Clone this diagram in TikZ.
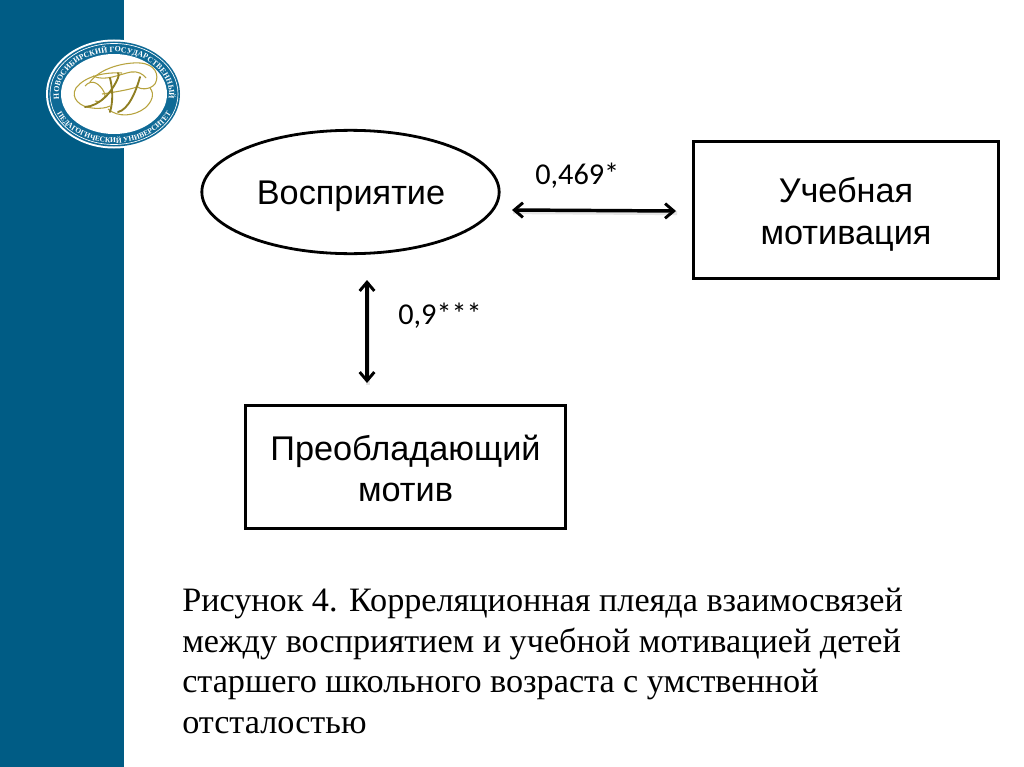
\documentclass[tikz,border=0pt]{standalone}
\usepackage{fontspec}
\setmainfont{Liberation Serif}
\newfontfamily\sansf{Liberation Sans}
\newfontfamily\calf{Carlito}
\usetikzlibrary{arrows.meta,decorations.text,shapes.geometric}
\definecolor{band}{HTML}{005C85}
\definecolor{logoblue}{HTML}{0F6A96}
\definecolor{gold}{HTML}{B7A33E}
\definecolor{golddark}{HTML}{8F7E22}
\newcommand{\fs}[1]{\fontsize{#1}{#1}\selectfont}
\tikzset{
  x=0.75pt,y=-0.75pt,
  shapeline/.style={draw=black,line width=2.1pt,fill=white,align=center,inner sep=0pt},
  boxnode/.style={shapeline,rectangle},
  labeltext/.style={font=\sansf\fs{25.7},inner sep=0pt,anchor=base},
  captext/.style={font=\fs{25.65},inner sep=0pt,anchor=base west},
  link/.style={draw=black,line width=2.6pt,{Straight Barb[length=6.5pt,width=11pt,line width=2.2pt]}-{Straight Barb[length=6.5pt,width=11pt,line width=2.2pt]},
    preaction={draw=black!10,line width=3pt,-,transform canvas={yshift=-1.6pt,xshift=0.8pt}}},
  coef/.style={font=\calf\fs{22.7},inner sep=0pt,anchor=base west},
  goldline/.style={draw=gold,line width=0.8pt},
  goldbold/.style={draw=golddark,line width=1.4pt,line cap=round},
}
\begin{document}
\begin{tikzpicture}
\useasboundingbox (0,0) rectangle (1024,767);
\fill[white] (0,0) rectangle (1024,767);
\fill[band] (0,0) rectangle (124,767);
% logo
\fill[white] (114,94) ellipse [x radius=68,y radius=54.5];
\fill[logoblue] (114,94) ellipse [x radius=66,y radius=52.5];
\draw[white,line width=0.5pt] (114,94) ellipse [x radius=64,y radius=50.5];
\fill[white] (114,94) ellipse [x radius=53,y radius=40];
\path[decorate,decoration={text along path,text align=center,text color=white,
  text={|\bfseries\fs{5.9}|НОВОСИБИРСКИЙ ГОСУДАРСТВЕННЫЙ}}]
  (114,94) ++(172:55 and 42) arc [start angle=172,end angle=368,x radius=55,y radius=42];
\path[decorate,decoration={text along path,text align=center,text color=white,
  text={|\bfseries\fs{5.6}|ПЕДАГОГИЧЕСКИЙ УНИВЕРСИТЕТ}}]
  (114,94) ++(158:62 and 49) arc [start angle=158,end angle=22,x radius=62,y radius=49];
% monogram
\draw[goldline] (122,73) .. controls (105,72) and (85,76) .. (76,88) .. controls (70,98) and (80,107) .. (92,108) .. controls (100,109) and (106,108) .. (110,106);
\draw[goldline] (90,82) .. controls (100,68) and (125,62) .. (140,63) .. controls (155,64) and (160,75) .. (155,84) .. controls (150,90) and (140,90) .. (136,86);
\draw[goldline] (93,76) .. controls (105,82) and (120,74) .. (131,72) .. controls (138,71) and (143,74) .. (146,78);
\draw[goldline] (108,109) .. controls (118,118) and (135,116) .. (145,108) .. controls (152,102) and (155,94) .. (150,88);
\draw[goldline] (85,86) .. controls (92,78) and (100,84) .. (104,92) .. controls (107,98) and (102,103) .. (95,101);
\draw[goldline] (102,94) .. controls (115,92) and (128,90) .. (137,87);
\draw[goldbold] (85,107) .. controls (100,106) and (112,92) .. (118,78) .. controls (119,76) and (119,74) .. (118,73);
\draw[goldbold] (110,78) .. controls (113,90) and (113,102) .. (110,112);
\draw[goldbold] (118,112) .. controls (128,110) and (136,92) .. (140,77);
% nodes
\node[shapeline,ellipse,minimum width=223pt,minimum height=92.5pt] (perc) at (350.5,192) {};
\node[labeltext] (perclabel) at (351,204) {Восприятие};
\node[boxnode,minimum width=229pt,minimum height=103pt] (learn) at (846,210) {};
\node[labeltext] (learn1) at (846,202) {Учебная};
\node[labeltext] (learn2) at (846,244) {мотивация};
\node[boxnode,minimum width=240pt,minimum height=92.5pt] (motive) at (405.5,467) {};
\node[labeltext] (motive1) at (405.5,460) {Преобладающий};
\node[labeltext] (motive2) at (405.5,501) {мотив};
% connectors
\coordinate (a1) at (512,210);
\coordinate (a2) at (676,211);
\coordinate (b1) at (367,280);
\coordinate (b2) at (367,383);
\draw[link] (a1) -- (a2);
\draw[link] (b1) -- (b2);
\node[coef] (c1) at (535,184) {0,469*};
\node[coef] (c2) at (398,324) {0,9***};
% caption
\node[captext] (cap1) at (182,611) {Рисунок 4. Корреляционная плеяда взаимосвязей};
\node[captext] (cap2) at (182,652) {между восприятием и учебной мотивацией детей};
\node[captext] (cap3) at (182,692) {старшего школьного возраста с умственной};
\node[captext] (cap4) at (182,733) {отсталостью};
\end{tikzpicture}
\end{document}
